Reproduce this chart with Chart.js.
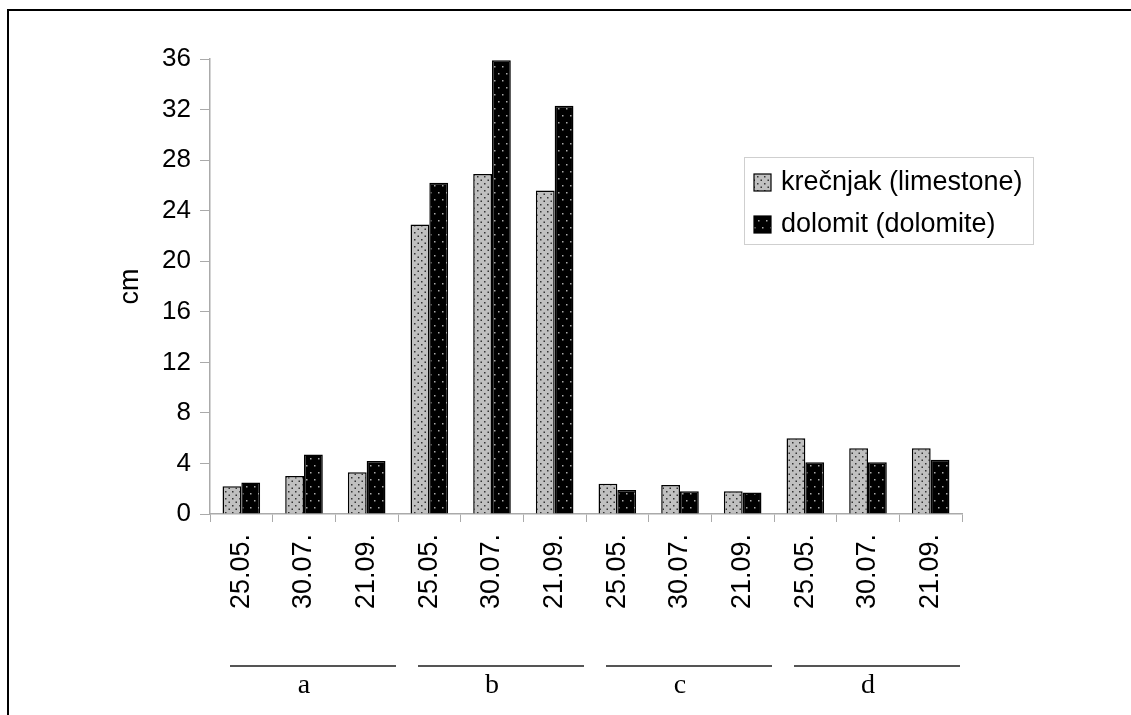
<!DOCTYPE html>
<html>
<head>
<meta charset="utf-8">
<script src="https://cdn.jsdelivr.net/npm/chart.js@4.4.0/dist/chart.umd.min.js"></script>
<style>
  html, body { margin: 0; padding: 0; background: #fff; }
  #wrap { position: relative; width: 1131px; height: 715px; }
</style>
</head>
<body>
<div id="wrap"><canvas id="chart"></canvas></div>
<script>
// sampling dates, repeated for each site a-d
const dates = ['25.05.', '30.07.', '21.09.', '25.05.', '30.07.', '21.09.',
               '25.05.', '30.07.', '21.09.', '25.05.', '30.07.', '21.09.']
const groupNames = ['a', 'b', 'c', 'd']
const limestone = [2.2, 3.0, 3.3, 22.9, 26.9, 25.6, 2.4, 2.3, 1.8, 6.0, 5.2, 5.2]
const dolomite = [2.5, 4.7, 4.2, 26.2, 35.9, 32.3, 1.9, 1.8, 1.7, 4.1, 4.1, 4.3]
const seriesNames = ['krečnjak (limestone)', 'dolomit (dolomite)']
const yMax = 36
const yStep = 4

const FONT = "'Liberation Sans', Arial, sans-serif"
const SERIF = "'Liberation Serif', 'Times New Roman', serif"

// dotted fills like the old excel patterns
function dotPattern(bg, dot, w, h, dots) {
  const c = document.createElement('canvas')
  c.width = w
  c.height = h
  const g = c.getContext('2d')
  g.fillStyle = bg
  g.fillRect(0, 0, w, h)
  g.fillStyle = dot
  dots.forEach(([x, y]) => g.fillRect(x, y, 1.5, 1.5))
  return g.createPattern(c, 'repeat')
}

const ctx = document.getElementById('chart').getContext('2d')
const grayFill = dotPattern('#c0c0c0', '#333', 7, 7, [[1, 1], [4.5, 4.5]])
const blackFill = dotPattern('#000', '#aaa', 8, 14, [[2, 3], [6, 10]])
const fills = [grayFill, blackFill]

// frame, custom legend, group lines
const extras = {
  id: 'extras',
  afterDraw(chart) {
    const g = chart.ctx
    const x = chart.scales.x
    g.save()

    // frame (only top and left edges are visible)
    g.strokeStyle = '#000'
    g.lineWidth = 2
    g.beginPath()
    g.moveTo(8, 715)
    g.lineTo(8, 10)
    g.lineTo(1131, 10)
    g.stroke()

    // legend
    g.strokeStyle = '#cfcfcf'
    g.lineWidth = 1
    g.strokeRect(744.5, 157.5, 289, 87)
    g.font = '27px ' + FONT
    g.textBaseline = 'middle'
    seriesNames.forEach((name, i) => {
      const cy = 182 + i * 42
      g.fillStyle = fills[i]
      g.fillRect(754, cy - 8, 17, 17)
      g.strokeStyle = '#000'
      g.lineWidth = 1.2
      g.strokeRect(754, cy - 8, 17, 17)
      g.fillStyle = '#000'
      g.fillText(name, 781, cy + 1)
    })

    // site groups under the dates
    const half = (x.getPixelForValue(1) - x.getPixelForValue(0)) / 2
    g.strokeStyle = '#555'
    g.lineWidth = 2
    g.font = '28px ' + SERIF
    g.textAlign = 'center'
    groupNames.forEach((name, i) => {
      const left = x.getPixelForValue(i * 3) - half
      const right = x.getPixelForValue(i * 3 + 2) + half
      g.beginPath()
      g.moveTo(left + 20, 666)
      g.lineTo(right - 2, 666)
      g.stroke()
      g.fillStyle = '#000'
      g.fillText(name, x.getPixelForValue(i * 3 + 1), 686)
    })
    g.restore()
  }
}

new Chart(ctx, {
  type: 'bar',
  data: {
    labels: dates,
    datasets: [{
      label: seriesNames[0],
      data: limestone,
      backgroundColor: grayFill,
      borderColor: '#000',
      borderWidth: 1.5
    }, {
      label: seriesNames[1],
      data: dolomite,
      backgroundColor: blackFill,
      borderColor: '#000',
      borderWidth: 1.5
    }]
  },
  options: {
    responsive: true,
    maintainAspectRatio: false,
    animation: false,
    layout: {
      padding: { left: 114, right: 169, top: 59, bottom: 0 }
    },
    plugins: {
      legend: { display: false },
      tooltip: { enabled: false }
    },
    datasets: {
      bar: { categoryPercentage: 0.6, barPercentage: 1.0 }
    },
    scales: {
      x: {
        grid: {
          offset: true,
          drawOnChartArea: false,
          tickLength: 8,
          color: '#aaa'
        },
        border: { color: '#aaa', width: 1.5 },
        ticks: {
          color: '#000',
          font: { family: FONT, size: 27 },
          minRotation: 90,
          maxRotation: 90,
          padding: 12,
          autoSkip: false
        },
        afterFit: (scale) => { scale.height = 201 }
      },
      y: {
        min: 0,
        max: yMax,
        grid: {
          drawOnChartArea: false,
          tickLength: 10,
          color: '#aaa'
        },
        border: { color: '#aaa', width: 1.5 },
        ticks: {
          stepSize: yStep,
          color: '#000',
          font: { family: FONT, size: 26 },
          padding: 9
        },
        title: {
          display: true,
          text: 'cm',
          color: '#000',
          font: { family: FONT, size: 27 },
          padding: 0
        },
        afterFit: (scale) => { scale.width = 96 }
      }
    }
  },
  plugins: [extras]
})
</script>
</body>
</html>
